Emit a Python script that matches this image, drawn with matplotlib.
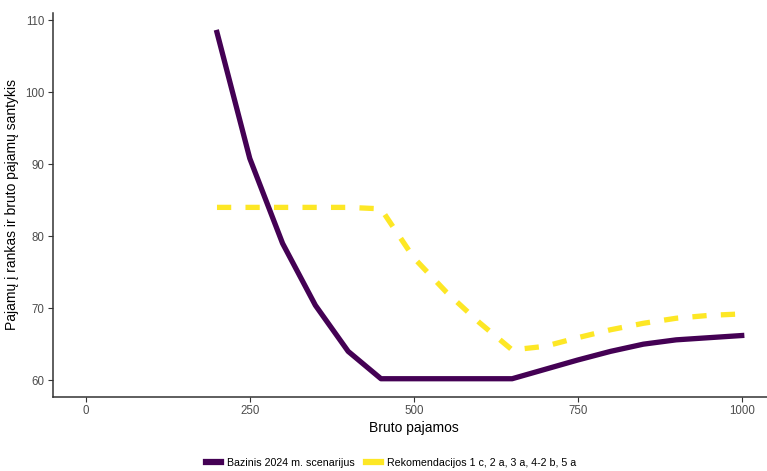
import matplotlib
matplotlib.use("Agg")
import matplotlib.pyplot as plt
from matplotlib.lines import Line2D

plt.rcParams['font.family'] = ['Liberation Sans', 'DejaVu Sans']

# data
income = [200, 250, 300, 350, 400, 450, 500, 550, 600, 650, 700, 750, 800, 850, 900, 950, 1000]
baseline = [108.3, 90.8, 79.0, 70.4, 64.0, 60.2, 60.2, 60.2, 60.2, 60.2, 61.5, 62.8, 64.0, 65.0, 65.6, 65.9, 66.2]
recommend = [84.0, 84.0, 84.0, 84.0, 84.0, 83.8, 77.0, 72.2, 68.0, 64.2, 64.7, 65.9, 67.0, 67.9, 68.6, 69.0, 69.2]
series_names = ["Bazinis 2024 m. scenarijus", "Rekomendacijos 1 c, 2 a, 3 a, 4-2 b, 5 a"]
x_ticks = [0, 250, 500, 750, 1000]
y_ticks = [60, 70, 80, 90, 100, 110]

purple = '#440154'
yellow = '#FDE725'
tick_col = '#4D4D4D'

fig = plt.figure(figsize=(7.67, 4.71), dpi=100)
ax = fig.add_axes([0.0691, 0.1577, 0.9407, 0.8147])

ax.plot(income, baseline, color=purple, lw=3.8, solid_joinstyle='round', zorder=2)
ax.plot(income, recommend, color=yellow, lw=3.8, dashes=(2.7, 2.7), zorder=3)

ax.set_xlim(-50, 1050)
ax.set_ylim(57.7, 111.0)
ax.set_xticks(x_ticks)
ax.set_yticks(y_ticks)

for side in ['top', 'right']:
    ax.spines[side].set_visible(False)
for side in ['left', 'bottom']:
    ax.spines[side].set_color('#333333')
    ax.spines[side].set_linewidth(1.1)
ax.tick_params(axis='both', color='#333333', labelcolor=tick_col, labelsize=8.3,
               length=3.5, width=0.8, pad=2.5)

ax.set_xlabel("Bruto pajamos", fontsize=10, color='black', labelpad=3)
ax.set_ylabel("Pajamų į rankas ir bruto pajamų santykis", fontsize=10, color='black', labelpad=4)
ax.yaxis.set_label_coords(-0.047, 0.5)

handles = [Line2D([0], [0], color=purple, lw=4.5),
           Line2D([0], [0], color=yellow, lw=4.5)]
fig.legend(handles, series_names, loc='center', bbox_to_anchor=(391 / 767, 0.017),
           ncol=2, frameon=False, fontsize=7.7, handlelength=1.4, handletextpad=0.6,
           columnspacing=1.0)

fig.savefig('out.png', dpi=100, facecolor='white')
